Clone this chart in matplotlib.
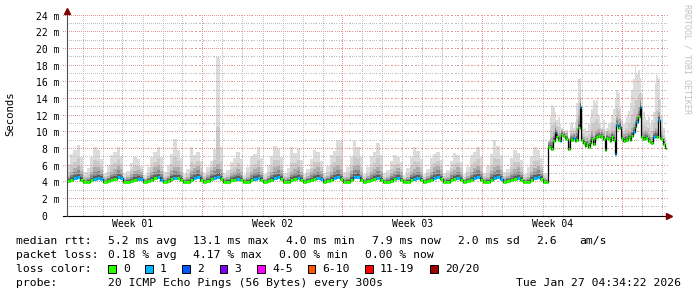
import numpy as np
import matplotlib.pyplot as plt
from matplotlib.patches import Rectangle

MONO = 'DejaVu Sans Mono'

# ---- data: days 0-24, 4 hour steps (6 per day) ----
med_a = [4.2, 4.3, 4.5, 4.6, 4.3, 4.1,  4.1, 4.3, 4.4, 4.5, 4.4, 4.1,
         4.2, 4.3, 4.4, 4.6, 4.5, 4.1,  4.1, 4.2, 4.3, 4.4, 4.4, 4.1,
         4.2, 4.3, 4.5, 4.6, 4.3, 4.1,  4.2, 4.4, 4.5, 4.5, 4.3, 4.0,
         4.1, 4.3, 4.5, 4.6, 4.3, 4.1,  4.2, 4.4, 4.5, 4.7, 4.4, 4.1,
         4.1, 4.3, 4.3, 4.4, 4.3, 4.1,  4.1, 4.3, 4.4, 4.5, 4.3, 4.0,
         4.2, 4.3, 4.5, 4.6, 4.4, 4.1,  4.1, 4.3, 4.4, 4.5, 4.3, 4.1,
         4.2, 4.3, 4.4, 4.5, 4.4, 4.1,  4.2, 4.3, 4.5, 4.6, 4.4, 4.1,
         4.1, 4.3, 4.6, 4.7, 4.3, 4.1,  4.2, 4.3, 4.4, 4.5, 4.3, 4.0,
         4.1, 4.2, 4.4, 4.5, 4.3, 4.1,  4.1, 4.3, 4.4, 4.5, 4.3, 4.0,
         4.2, 4.3, 4.5, 4.6, 4.4, 4.1,  4.1, 4.3, 4.4, 4.5, 4.3, 4.1,
         4.2, 4.3, 4.5, 4.6, 4.3, 4.1,  4.1, 4.3, 4.5, 4.6, 4.4, 4.1,
         4.2, 4.3, 4.4, 4.5, 4.3, 4.0,  4.1, 4.3, 4.5, 4.6, 4.4, 4.1]
hi_a = [4.8, 5.3, 5.7, 6.0, 5.4, 4.5,  4.7, 5.2, 5.8, 5.9, 5.5, 4.5,
        4.8, 5.3, 5.6, 6.0, 5.6, 4.4,  4.6, 5.0, 5.4, 5.5, 5.3, 4.4,
        4.8, 5.3, 5.8, 6.1, 5.4, 4.5,  4.8, 5.5, 5.9, 5.8, 5.3, 4.4,
        4.7, 5.4, 5.7, 6.0, 5.3, 4.5,  4.9, 5.5, 5.9, 6.2, 5.6, 4.5,
        4.6, 5.1, 5.3, 5.6, 5.3, 4.4,  4.7, 5.2, 5.6, 5.8, 5.3, 4.4,
        4.8, 5.3, 5.8, 6.0, 5.5, 4.5,  4.7, 5.3, 5.6, 5.9, 5.3, 4.4,
        4.8, 5.2, 5.6, 5.8, 5.4, 4.5,  4.8, 5.3, 5.8, 6.1, 5.6, 4.5,
        4.7, 5.4, 6.0, 6.1, 5.3, 4.4,  4.8, 5.2, 5.6, 5.9, 5.4, 4.4,
        4.6, 5.1, 5.4, 5.7, 5.2, 4.4,  4.7, 5.3, 5.6, 5.8, 5.3, 4.4,
        4.8, 5.3, 5.8, 6.0, 5.5, 4.5,  4.7, 5.2, 5.5, 5.8, 5.3, 4.4,
        4.8, 5.3, 5.7, 6.0, 5.4, 4.5,  4.7, 5.4, 5.8, 6.0, 5.5, 4.5,
        4.8, 5.2, 5.6, 5.8, 5.3, 4.4,  4.7, 5.3, 5.7, 6.0, 5.5, 4.5]
top_a = [6.2, 7.4, 7.9, 8.5, 7.0, 5.3,  5.7, 7.0, 8.3, 7.9, 6.8, 5.1,
         6.0, 7.3, 7.6, 8.3, 7.2, 5.0,  5.4, 6.3, 7.1, 6.8, 6.0, 4.9,
         5.8, 7.0, 7.6, 8.3, 7.1, 5.2,  6.1, 7.4, 9.2, 7.9, 6.9, 5.0,
         5.6, 8.3, 7.3, 7.6, 6.6, 5.1,  5.9, 6.6, 8.0, 19.0, 8.2, 5.0,
         5.5, 6.4, 6.9, 7.7, 6.8, 4.9,  5.8, 7.1, 7.4, 8.3, 6.9, 5.0,
         6.0, 7.2, 8.4, 8.0, 7.0, 5.1,  5.7, 8.2, 7.5, 8.1, 6.7, 5.0,
         5.6, 6.8, 7.9, 7.7, 6.6, 5.1,  6.0, 7.3, 7.8, 9.1, 9.0, 5.2,
         5.9, 7.0, 9.0, 8.3, 7.0, 5.0,  5.8, 7.2, 7.6, 8.7, 7.3, 5.1,
         5.5, 6.6, 7.3, 7.0, 6.4, 4.9,  5.7, 7.1, 8.3, 7.8, 6.8, 5.0,
         5.6, 6.9, 7.4, 7.7, 6.7, 5.1,  5.5, 6.6, 7.5, 7.3, 6.5, 5.0,
         5.9, 7.3, 7.7, 8.3, 7.0, 5.1,  6.0, 7.4, 9.1, 8.4, 7.3, 5.2,
         5.6, 6.9, 7.9, 7.5, 6.7, 5.0,  5.8, 7.2, 8.3, 7.9, 6.9, 5.1]
loss_a = [0, 0, 1, 1, 0, 0,  0, 0, 1, 1, 1, 0,  0, 0, 0, 1, 1, 0,  0, 0, 0, 1, 1, 0,
          0, 0, 0, 1, 1, 0,  0, 0, 1, 0, 0, 0,  0, 0, 1, 1, 0, 0,  0, 0, 1, 1, 0, 0,
          0, 0, 0, 1, 0, 0,  0, 0, 1, 1, 0, 0,  0, 0, 1, 1, 0, 0,  0, 0, 0, 1, 0, 0,
          0, 0, 0, 1, 1, 0,  0, 0, 1, 1, 0, 0,  0, 0, 1, 1, 0, 0,  0, 0, 0, 1, 0, 0,
          0, 0, 0, 1, 0, 0,  0, 0, 1, 1, 0, 0,  0, 0, 1, 1, 0, 0,  0, 0, 0, 1, 0, 0,
          0, 0, 1, 1, 0, 0,  0, 0, 1, 1, 1, 0,  0, 0, 0, 1, 0, 0,  0, 0, 1, 1, 0, 0]

# ---- data: days 24-30, 2 hour steps ----
med_b = [4.1, 8.3, 8.2, 8.0, 9.0, 10.0, 9.5, 9.1, 9.0, 9.7, 9.6, 9.3,
         9.2, 8.0, 9.2, 9.1, 9.3, 9.0, 9.1, 10.5, 13.1, 9.1, 8.7, 8.4,
         8.6, 8.3, 8.7, 9.2, 8.6, 9.3, 9.5, 9.6, 9.4, 9.6, 9.2, 7.9,
         9.3, 9.2, 9.0, 9.4, 9.1, 7.4, 10.9, 10.5, 10.7, 9.3, 9.0, 9.2,
         9.1, 9.3, 9.1, 9.6, 10.0, 10.6, 11.2, 11.9, 13.0, 9.5, 9.2, 9.5,
         9.3, 9.0, 8.8, 8.7, 9.4, 9.6, 9.5, 11.5, 9.3, 9.2, 8.6, 8.1]
hi_b = [4.4, 9.0, 9.3, 9.5, 10.0, 10.8, 10.3, 9.9, 9.8, 10.3, 10.2, 9.9,
        9.9, 8.8, 9.8, 9.8, 9.9, 9.8, 10.5, 12.0, 14.0, 9.9, 9.4, 9.1,
        9.3, 9.1, 9.5, 10.0, 9.6, 10.2, 10.3, 10.4, 10.1, 10.3, 9.9, 8.8,
        10.0, 9.9, 9.8, 10.2, 10.2, 9.5, 11.8, 11.6, 11.6, 10.1, 9.8, 9.9,
        9.9, 10.1, 10.0, 10.5, 11.0, 11.6, 12.2, 13.0, 14.0, 10.5, 10.0, 10.3,
        10.1, 9.8, 9.5, 9.4, 10.2, 10.5, 10.4, 12.5, 10.2, 10.0, 9.3, 8.7]
top_b = [5.0, 9.0, 12.0, 13.3, 13.0, 12.5, 11.5, 11.9, 11.0, 10.5, 10.2, 10.0,
         10.3, 9.5, 11.0, 11.2, 10.5, 11.3, 13.5, 16.4, 16.5, 12.0, 10.4, 10.5,
         10.2, 11.0, 11.9, 12.8, 13.9, 13.5, 13.9, 12.0, 11.2, 10.5, 11.5, 10.0,
         10.5, 11.0, 11.3, 12.0, 12.8, 14.0, 15.1, 14.7, 13.0, 11.5, 11.0, 11.2,
         11.8, 12.6, 13.5, 15.0, 16.4, 18.1, 17.0, 17.5, 16.5, 14.7, 12.5, 11.9,
         11.5, 11.9, 11.0, 11.5, 12.5, 15.9, 16.9, 16.5, 14.0, 12.0, 10.5, 9.5]
loss_b = [0, 0, 0, 0, 0, 1, 0, 0, 1, 0, 0, 0,
          0, 0, 0, 0, 1, 0, 0, 0, 1, 0, 0, 0,
          0, 0, 0, 0, 0, 0, 0, 0, 0, 0, 0, 0,
          0, 0, 0, 0, 0, 1, 1, 0, 1, 0, 0, 0,
          0, 0, 0, 0, 1, 0, 1, 0, 1, 0, 0, 0,
          0, 0, 0, 0, 1, 1, 0, 1, 0, 0, 0, 0]

week_labels = ["Week 01", "Week 02", "Week 03", "Week 04"]
week_pos = [3.3, 10.3, 17.3, 24.3]
week_lines = [6.8, 13.8, 20.8, 27.8]
y_ticks = list(range(0, 25, 2))
y_labels = ["0  "] + [f"{v} m" for v in y_ticks[1:]]

loss_names = ["0", "1", "2", "3", "4-5", "6-10", "11-19", "20/20"]
loss_colors = ["#26ff00", "#00b8ff", "#0059ff", "#7e00ff", "#ff00ff",
               "#ff5500", "#ff0000", "#a00000"]
rtt_stats = ["5.2 ms avg", "13.1 ms max", "4.0 ms min", "7.9 ms now",
             "2.0 ms sd", "2.6", "am/s"]
loss_stats = ["0.18 % avg", "4.17 % max", "0.00 % min", "0.00 % now"]
probe = "20 ICMP Echo Pings (56 Bytes) every 300s"
stamp = "Tue Jan 27 04:34:22 2026"

med = np.array(med_a + med_b)
hi = np.array(hi_a + hi_b)
top = np.array(top_a + top_b)
loss = np.array(loss_a + loss_b)
t = np.concatenate([np.arange(len(med_a) + 1) / 6,
                    24 + np.arange(1, len(med_b) + 1) / 12])

W, H = 697, 297
fig = plt.figure(figsize=(W / 100, H / 100), dpi=100, facecolor="white")


def fx(px):
    return px / W


def fy(py):
    return 1 - py / H


ax = fig.add_axes([fx(66.5), fy(215.7), 602 / W, 200 / H])
ax.set_xlim(0, 30.1)
ax.set_ylim(0, 24)
for s in ax.spines.values():
    s.set_visible(False)


# smoke
def ext(a):
    return np.append(a, a[-1])


bands = [(med - 0.2, top, "#dcdcdc"),
         (med - 0.15, hi + 0.35 * (top - hi), "#cacaca"),
         (med - 0.1, hi, "#adadad"),
         (med - 0.05, med + 0.6 * (hi - med), "#8a8a8a"),
         (med, med + 0.3 * (hi - med), "#5e5e5e")]
for lo, up, c in bands:
    ax.fill_between(t, ext(lo), ext(up), step="post", color=c, lw=0, zorder=2)

# dotted grid on top of the smoke: one pixel dot every two pixels
GRAY, RED = "#bdbdbd", "#e39494"
xs = np.arange(0, 30.08, 0.1)
xs_major = np.arange(-0.2, 30.08, 0.1)
ys = np.arange(0, 24.01, 0.24)
for v in range(1, 24, 2):
    ax.plot(xs, np.full_like(xs, v), ",", color=GRAY, zorder=2.5)
for v in y_ticks[1:]:
    ax.plot(xs_major, np.full_like(xs_major, v), ",", color=RED, zorder=2.5,
            clip_on=False)
for k in range(30):
    d = round(0.8 + k, 1)
    ax.plot(np.full_like(ys, d), ys, ",",
            color=RED if d in week_lines else GRAY, zorder=2.5)

# median line
ax.step(t, ext(med), where="post", color="black", lw=0.9, zorder=3)
ax.hlines(med, t[:-1], t[1:], colors=[loss_colors[l] for l in loss],
          lw=2.2, zorder=4)

# axes lines and arrows
ax.plot([-0.18, 30.1], [0, 0], color="black", lw=0.8, clip_on=False, zorder=5)
ax.plot([0, 0], [0, 24.4], color="#505050", lw=0.8, clip_on=False, zorder=5)
ax.plot([30.15], [0], marker=">", ms=4, color="#800000", clip_on=False, zorder=6)
ax.plot([0], [24.55], marker="^", ms=4, color="#800000", clip_on=False, zorder=6)

ax.set_yticks(y_ticks, y_labels, fontfamily=MONO, fontsize=7)
ax.set_xticks(week_pos, week_labels, fontfamily=MONO, fontsize=7)
ax.tick_params(axis="y", length=0, pad=4.7)
ax.tick_params(axis="x", length=0, pad=2.5)

fig.text(fx(10), fy(114), "Seconds", rotation=90, ha="center", va="center",
         fontfamily=MONO, fontsize=7.7)
fig.text(fx(687), fy(4), "RRDTOOL / TOBI OETIKER", rotation=270, ha="center",
         va="top", fontfamily=MONO, fontsize=6, color="#c0c0c0")

# legend
FS = 8.2
txt = dict(fontfamily=MONO, fontsize=FS, va="center", ha="left")
fig.text(fx(16), fy(241), "median rtt:", **txt)
for s, x in zip(rtt_stats, [107.5, 193, 286, 372, 458, 536, 579]):
    fig.text(fx(x), fy(241), s, **txt)
fig.text(fx(16), fy(255), "packet loss:", **txt)
for s, x in zip(loss_stats, [107.5, 193, 279, 365]):
    fig.text(fx(x), fy(255), s, **txt)
fig.text(fx(16), fy(269), "loss color:", **txt)
for name, c, x in zip(loss_names, loss_colors,
                      [108, 145, 182, 219.5, 257, 307.5, 365, 430]):
    fig.add_artist(Rectangle((fx(x), fy(272.5)), 7.5 / W, 7.5 / H,
                             transform=fig.transFigure, facecolor=c,
                             edgecolor="black", lw=0.7))
    fig.text(fx(x + 15), fy(269), name, **txt)
fig.text(fx(16), fy(283), "probe:", **txt)
fig.text(fx(107.5), fy(283), probe, **txt)
fig.text(fx(681), fy(283), stamp, fontfamily=MONO, fontsize=FS, va="center",
         ha="right")

fig.savefig("out.png", dpi=100, facecolor="white")
